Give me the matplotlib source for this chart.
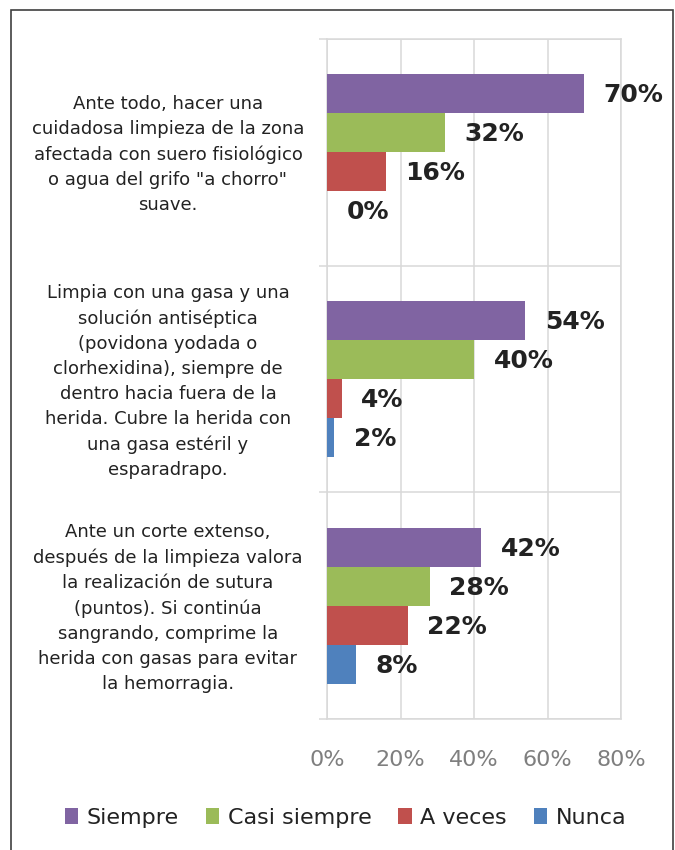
import numpy as np
import matplotlib
matplotlib.use("Agg")
from matplotlib import pyplot as plt
from matplotlib.patches import Rectangle
from matplotlib.transforms import blended_transform_factory

# datos
categorias = [
    'Ante todo, hacer una\ncuidadosa limpieza de la zona\nafectada con suero fisiológico\no agua del grifo "a chorro"\nsuave.',
    'Limpia con una gasa y una\nsolución antiséptica\n(povidona yodada o\nclorhexidina), siempre de\ndentro hacia fuera de la\nherida. Cubre la herida con\nuna gasa estéril y\nesparadrapo.',
    'Ante un corte extenso,\ndespués de la limpieza valora\nla realización de sutura\n(puntos). Si continúa\nsangrando, comprime la\nherida con gasas para evitar\nla hemorragia.',
]
series = ['Siempre', 'Casi siempre', 'A veces', 'Nunca']
siempre = [70, 54, 42]
casi_siempre = [32, 40, 28]
a_veces = [16, 4, 22]
nunca = [0, 2, 8]
ticks_x = [0, 20, 40, 60, 80]

valores = [siempre, casi_siempre, a_veces, nunca]
colores = ['#8064A2', '#9BBB59', '#C0504D', '#4F81BD']
gris = '#D9D9D9'
texto = '#222222'

fig = plt.figure(figsize=(6.75, 8.5), dpi=100)
ax = fig.add_axes([327/675, 1 - 719/850, 294/675, 680/850])

h = 0.172
y = np.arange(len(categorias))
for k in range(len(series)):
    yy = y + (k - 1.5) * h
    ax.barh(yy, valores[k], height=h, color=colores[k], label=series[k], zorder=3)
    for yi, v in zip(yy, valores[k]):
        ax.annotate(f'{v}%', (v, yi), xytext=(14, -1), textcoords='offset points',
                    ha='left', va='center', fontsize=18, fontweight='bold', color=texto)

ax.set_xlim(0, 80)
ax.set_ylim(len(categorias) - 0.5, -0.5)
ax.set_xticks(ticks_x)
ax.set_xticklabels([f'{t}%' for t in ticks_x], fontsize=16, color='#7F7F7F')
ax.set_yticks(np.arange(len(categorias) + 1) - 0.5)
ax.set_yticklabels([])
ax.tick_params(axis='x', length=0, pad=22)
ax.tick_params(axis='y', length=6, width=1.1, color=gris)
ax.grid(True, color=gris, linewidth=1.1, zorder=0)
ax.set_axisbelow(True)
for s in ax.spines.values():
    s.set_color(gris)
    s.set_linewidth(1.1)

# textos de categoria
tr = blended_transform_factory(fig.transFigure, ax.transData)
for yi, c in zip(y, categorias):
    ax.text(168/675, yi + 0.01, c, transform=tr, ha='center', va='center',
            multialignment='center', fontsize=13, linespacing=1.5, color=texto)

leg = fig.legend(loc='center', bbox_to_anchor=(0.512, 1 - 818/850), ncol=4, frameon=False,
                 fontsize=16, handlelength=0.6, handleheight=0.75, handletextpad=0.4,
                 columnspacing=1.2, labelcolor=texto)

fig.add_artist(Rectangle((11/675, -0.05), 662/675, 1.05 - 10/850, transform=fig.transFigure,
                         fill=False, edgecolor='#404040', linewidth=1.2))

fig.savefig('out.png', dpi=100)
